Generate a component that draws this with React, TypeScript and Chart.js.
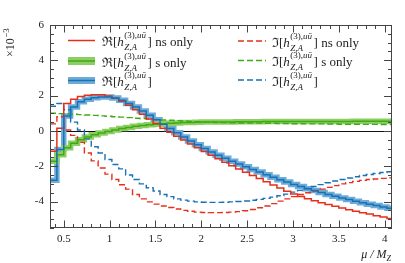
import React, { useEffect, useRef } from "react";
import { Chart, registerables } from "chart.js";

Chart.register(...registerables);

// bin edges in mu/M_Z
const binEdges = [
  0.35, 0.425, 0.5, 0.575, 0.65, 0.725, 0.8, 0.875, 0.95, 1.025,
  1.1, 1.175, 1.25, 1.325, 1.4, 1.475, 1.55, 1.625, 1.7, 1.775,
  1.85, 1.925, 2.0, 2.075, 2.15, 2.225, 2.3, 2.375, 2.45, 2.525,
  2.6, 2.675, 2.75, 2.825, 2.9, 2.975, 3.05, 3.125, 3.2, 3.275,
  3.35, 3.425, 3.5, 3.575, 3.65, 3.725, 3.8, 3.875, 3.95, 4.025, 4.1,
];

// Re[h] ns only (red solid), units of 1e-3
const reNsOnly = [
  -1.15, 0.15, 1.55, 1.8, 1.95, 2.02, 2.05, 2.05, 1.98, 1.85,
  1.68, 1.45, 1.2, 0.95, 0.68, 0.42, 0.15, -0.07, -0.3, -0.52,
  -0.74, -0.96, -1.17, -1.38, -1.58, -1.78, -1.97, -2.16, -2.34, -2.52,
  -2.7, -2.88, -3.06, -3.24, -3.42, -3.58, -3.72, -3.85, -3.96, -4.07,
  -4.17, -4.27, -4.37, -4.46, -4.55, -4.63, -4.71, -4.8, -4.88, -4.96,
];

// Re[h] s only (green solid band)
const reSOnly = [
  -1.72, -1.35, -0.95, -0.7, -0.5, -0.35, -0.22, -0.12, -0.03, 0.05,
  0.13, 0.2, 0.26, 0.31, 0.35, 0.38, 0.41, 0.43, 0.45, 0.47,
  0.48, 0.49, 0.5, 0.5, 0.51, 0.51, 0.51, 0.52, 0.52, 0.52,
  0.52, 0.53, 0.53, 0.53, 0.53, 0.53, 0.53, 0.54, 0.54, 0.54,
  0.54, 0.54, 0.54, 0.54, 0.55, 0.55, 0.55, 0.55, 0.55, 0.55,
];

// Re[h] total (blue solid band)
const reTotal = [
  -2.8, -1.05, 0.85, 1.35, 1.65, 1.8, 1.88, 1.92, 1.92, 1.87,
  1.74, 1.56, 1.36, 1.13, 0.89, 0.63, 0.38, 0.13, -0.11, -0.34,
  -0.57, -0.79, -1.0, -1.2, -1.38, -1.55, -1.72, -1.88, -2.03, -2.18,
  -2.33, -2.48, -2.62, -2.76, -2.9, -3.03, -3.15, -3.27, -3.38, -3.49,
  -3.6, -3.7, -3.8, -3.89, -3.98, -4.07, -4.15, -4.23, -4.31, -4.38,
];

// Im[h] ns only (red dashed)
const imNsOnly = [
  0.4, 0.8, 0.05, -0.25, -0.65, -1.25, -1.7, -2.1, -2.45, -2.75,
  -3.05, -3.3, -3.6, -3.85, -4.02, -4.15, -4.25, -4.34, -4.42, -4.5,
  -4.55, -4.6, -4.62, -4.63, -4.63, -4.62, -4.6, -4.57, -4.52, -4.45,
  -4.35, -4.25, -4.12, -3.98, -3.85, -3.72, -3.6, -3.5, -3.4, -3.3,
  -3.2, -3.1, -3.0, -2.93, -2.86, -2.8, -2.75, -2.72, -2.69, -2.66,
];

// Im[h] s only (green dashed)
const imSOnly = [
  1.0, 0.98, 0.96, 0.94, 0.92, 0.9, 0.88, 0.85, 0.83, 0.8,
  0.78, 0.75, 0.72, 0.7, 0.67, 0.65, 0.62, 0.6, 0.58, 0.56,
  0.54, 0.52, 0.5, 0.49, 0.48, 0.47, 0.46, 0.45, 0.45, 0.44,
  0.44, 0.43, 0.43, 0.42, 0.42, 0.41, 0.41, 0.4, 0.4, 0.4,
  0.39, 0.39, 0.38, 0.38, 0.38, 0.37, 0.37, 0.37, 0.36, 0.36,
];

// Im[h] total (blue dashed)
const imTotal = [
  1.4, 1.55, 1.2, 0.5, 0.05, -0.45, -0.9, -1.25, -1.62, -1.9,
  -2.15, -2.5, -2.75, -3.0, -3.22, -3.4, -3.6, -3.72, -3.85, -3.92,
  -3.98, -4.02, -4.04, -4.05, -4.05, -4.04, -4.02, -4.0, -3.97, -3.93,
  -3.88, -3.82, -3.75, -3.67, -3.58, -3.47, -3.37, -3.26, -3.15, -3.04,
  -2.94, -2.84, -2.75, -2.67, -2.6, -2.53, -2.47, -2.41, -2.36, -2.31,
];

const xTickValues = [0.5, 1, 1.5, 2, 2.5, 3, 3.5, 4];
const xTickLabels = ["0.5", "1", "1.5", "2", "2.5", "3", "3.5", "4"];
const yTickValues = [-4, -2, 0, 2, 4, 6];
const yTickLabels = ["-4", "-2", "0", "2", "4", "6"];

const RED = "rgb(232,46,26)";
const GREEN = "rgb(64,170,20)";
const GREEN_BAND = "rgb(140,206,100)";
const BLUE = "rgb(24,112,182)";
const BLUE_BAND = "rgb(110,172,216)";
const FRAME = "#444";
const TEXT = "#222";
const SERIF = "'Liberation Serif', 'DejaVu Serif', serif";

function steps(vals: number[]) {
  return binEdges.map((x, i) => ({ x, y: vals[Math.min(i, vals.length - 1)] }));
}

function drawLabel(ctx: CanvasRenderingContext2D, x: number, base: number, op: string, suffix: string) {
  ctx.fillStyle = TEXT;
  ctx.textAlign = "left";
  ctx.textBaseline = "alphabetic";
  ctx.font = `13px ${SERIF}`;
  ctx.fillText(op, x, base);
  x += ctx.measureText(op).width;
  ctx.fillText("[", x, base);
  x += ctx.measureText("[").width;
  ctx.font = `italic 13px ${SERIF}`;
  ctx.fillText("h", x, base);
  x += ctx.measureText("h").width + 0.5;
  let sx = x;
  ctx.font = `9px ${SERIF}`;
  ctx.fillText("(3),", sx, base - 8);
  sx += ctx.measureText("(3),").width;
  ctx.font = `italic 9px ${SERIF}`;
  ctx.fillText("uū", sx, base - 8);
  sx += ctx.measureText("uū").width;
  ctx.fillText("Z,A", x, base + 4);
  const bx = Math.max(sx, x + ctx.measureText("Z,A").width) + 1.5;
  ctx.font = `13px ${SERIF}`;
  ctx.fillText("]", bx, base);
  const ex = bx + ctx.measureText("]").width;
  if (suffix) ctx.fillText(suffix, ex, base);
}

const decor = {
  id: "decor",
  beforeDatasetsDraw(chart: any) {
    const { ctx, chartArea: ca, scales } = chart;
    const y0 = Math.round(scales.y.getPixelForValue(0)) + 0.5;
    ctx.save();
    ctx.strokeStyle = "#111";
    ctx.lineWidth = 1;
    ctx.beginPath();
    ctx.moveTo(ca.left, y0);
    ctx.lineTo(ca.right, y0);
    ctx.stroke();
    ctx.restore();
  },
  afterDraw(chart: any) {
    const { ctx, chartArea: ca, scales } = chart;
    const xs = scales.x;
    const ys = scales.y;
    ctx.save();
    ctx.strokeStyle = FRAME;
    ctx.lineWidth = 1;
    ctx.strokeRect(ca.left + 0.5, ca.top + 0.5, ca.right - ca.left - 1, ca.bottom - ca.top - 1);
    ctx.beginPath();
    for (let k = 4; k <= 40; k++) {
      const v = k / 10;
      const px = Math.round(xs.getPixelForValue(v)) + 0.5;
      const len = k % 5 === 0 ? 7.5 : 4;
      ctx.moveTo(px, ca.bottom);
      ctx.lineTo(px, ca.bottom - len);
      ctx.moveTo(px, ca.top);
      ctx.lineTo(px, ca.top + len);
    }
    for (let k = -11; k <= 12; k++) {
      const v = k / 2;
      const py = Math.round(ys.getPixelForValue(v)) + 0.5;
      const len = k % 4 === 0 ? 8 : 4;
      ctx.moveTo(ca.left, py);
      ctx.lineTo(ca.left + len, py);
      ctx.moveTo(ca.right, py);
      ctx.lineTo(ca.right - len, py);
    }
    ctx.stroke();

    // legend
    const rowsL = [40.5, 61, 80.5];
    const rowsR = [41, 60.5, 80];
    ctx.setLineDash([]);
    ctx.lineCap = "butt";
    ctx.strokeStyle = RED;
    ctx.lineWidth = 1.5;
    ctx.beginPath();
    ctx.moveTo(68, rowsL[0]);
    ctx.lineTo(95, rowsL[0]);
    ctx.stroke();
    ctx.fillStyle = GREEN_BAND;
    ctx.fillRect(68, rowsL[1] - 4, 27, 8);
    ctx.strokeStyle = GREEN;
    ctx.beginPath();
    ctx.moveTo(68, rowsL[1]);
    ctx.lineTo(95, rowsL[1]);
    ctx.stroke();
    ctx.fillStyle = BLUE_BAND;
    ctx.fillRect(68, rowsL[2] - 3.5, 27, 7);
    ctx.strokeStyle = BLUE;
    ctx.beginPath();
    ctx.moveTo(68, rowsL[2]);
    ctx.lineTo(95, rowsL[2]);
    ctx.stroke();
    ctx.setLineDash([6, 3]);
    ctx.lineWidth = 1.4;
    [RED, GREEN, BLUE].forEach((c, i) => {
      ctx.strokeStyle = c;
      ctx.beginPath();
      ctx.moveTo(238, rowsR[i]);
      ctx.lineTo(266, rowsR[i]);
      ctx.stroke();
    });
    ctx.setLineDash([]);

    drawLabel(ctx, 102, rowsL[0] + 5.5, "ℜ", " ns only");
    drawLabel(ctx, 102, rowsL[1] + 5.5, "ℜ", " s only");
    drawLabel(ctx, 102, rowsL[2] + 5.5, "ℜ", "");
    drawLabel(ctx, 272, rowsR[0] + 5.5, "ℑ", " ns only");
    drawLabel(ctx, 272, rowsR[1] + 5.5, "ℑ", " s only");
    drawLabel(ctx, 272, rowsR[2] + 5.5, "ℑ", "");

    // x10^-3 rotated
    ctx.save();
    ctx.translate(13.5, 57);
    ctx.rotate(-Math.PI / 2);
    ctx.fillStyle = TEXT;
    ctx.textAlign = "left";
    ctx.textBaseline = "alphabetic";
    ctx.font = `12px ${SERIF}`;
    ctx.fillText("×10", 0, 0);
    const w = ctx.measureText("×10").width;
    ctx.font = `9px ${SERIF}`;
    ctx.fillText("−3", w + 0.5, -5);
    ctx.restore();

    // axis title mu/M_Z
    ctx.fillStyle = TEXT;
    ctx.textBaseline = "alphabetic";
    ctx.textAlign = "left";
    ctx.font = `italic 12px ${SERIF}`;
    const t1 = "μ / M";
    const w1 = ctx.measureText(t1).width;
    ctx.font = `italic 8px ${SERIF}`;
    const w2 = ctx.measureText("Z").width;
    const sx = 391 - w1 - w2;
    ctx.font = `italic 12px ${SERIF}`;
    ctx.fillText(t1, sx, 258);
    ctx.font = `italic 8px ${SERIF}`;
    ctx.fillText("Z", sx + w1, 260.5);
    ctx.restore();
  },
};

export default function App() {
  const ref = useRef<HTMLCanvasElement>(null);
  useEffect(() => {
    const canvas = ref.current;
    if (!canvas) return;
    const line = (label: string, vals: number[], color: string, width: number, dash: number[], order: number) => ({
      label,
      data: steps(vals),
      borderColor: color,
      backgroundColor: color,
      borderWidth: width,
      borderDash: dash,
      stepped: true,
      pointRadius: 0,
      pointHoverRadius: 0,
      fill: false,
      clip: 0,
      order,
      borderJoinStyle: "miter",
      borderCapStyle: "butt",
      tension: 0,
    });
    const chart = new Chart(canvas, {
      type: "line",
      data: {
        datasets: [
          line("Re total band", reTotal, BLUE_BAND, 5.5, [], 20),
          line("Re s only band", reSOnly, GREEN_BAND, 5.5, [], 19),
          line("Im s only", imSOnly, GREEN, 1.4, [6, 3], 9),
          line("Im ns only", imNsOnly, RED, 1.4, [6, 3], 8),
          line("Im total", imTotal, BLUE, 1.4, [6, 3], 7),
          line("Re s only", reSOnly, GREEN, 1.5, [], 6),
          line("Re ns only", reNsOnly, RED, 1.5, [], 5),
          line("Re total", reTotal, BLUE, 1.5, [], 4),
        ] as any,
      },
      options: {
        animation: false,
        responsive: false,
        devicePixelRatio: 1,
        layout: { padding: { top: 25, right: 13, left: 0, bottom: 0 } },
        plugins: { legend: { display: false }, tooltip: { enabled: false } },
        events: [],
        scales: {
          x: {
            type: "linear",
            min: 0.35,
            max: 4.08,
            grid: { display: false, drawTicks: false },
            border: { display: false },
            afterBuildTicks: (s: any) => {
              s.ticks = xTickValues.map((v) => ({ value: v }));
            },
            afterFit: (s: any) => {
              s.height = 35;
            },
            ticks: {
              callback: (_v: any, i: number) => xTickLabels[i],
              padding: 5,
              maxRotation: 0,
              autoSkip: false,
              color: TEXT,
              font: { family: SERIF, size: 11 },
            },
          },
          y: {
            type: "linear",
            min: -5.5,
            max: 6,
            grid: { display: false, drawTicks: false },
            border: { display: false },
            afterBuildTicks: (s: any) => {
              s.ticks = yTickValues.map((v) => ({ value: v }));
            },
            afterFit: (s: any) => {
              s.width = 50;
            },
            ticks: {
              callback: (_v: any, i: number) => yTickLabels[i],
              padding: 6,
              autoSkip: false,
              color: TEXT,
              font: { family: SERIF, size: 11 },
            },
          },
        },
      } as any,
      plugins: [decor],
    });
    return () => chart.destroy();
  }, []);
  return (
    <div style={{ position: "fixed", left: 0, top: 0, width: 405, height: 263, background: "#fff" }}>
      <canvas ref={ref} width={405} height={263} style={{ display: "block", width: 405, height: 263 }} />
    </div>
  );
}
